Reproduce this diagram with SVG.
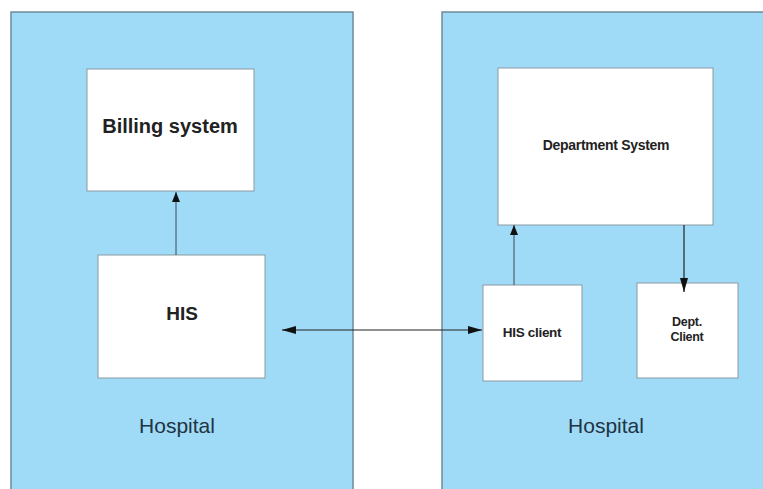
<svg xmlns="http://www.w3.org/2000/svg" width="763" height="489" viewBox="0 0 763 489">
  <style>
    .site { fill: #9fdbf6; stroke: #6f8a99; stroke-width: 1.5; }
    .box { fill: #ffffff; stroke: #8a9aa4; stroke-width: 1; }
    .label { font-family: "Liberation Sans", Arial, sans-serif; font-weight: bold; fill: #222; text-anchor: middle; }
    .site-label { font-family: "Liberation Sans", Arial, sans-serif; font-size: 21px; fill: #223344; text-anchor: middle; }
    .link { stroke: #3a4a55; stroke-width: 1; fill: none; }
    .link-dark { stroke: #222; stroke-width: 1.2; fill: none; }
  </style>
  <defs>
    <marker id="arrow" viewBox="0 0 10 10" refX="10" refY="5" markerWidth="10" markerHeight="10" markerUnits="userSpaceOnUse" orient="auto-start-reverse">
      <path d="M0,1 L10,5 L0,9 z" fill="#111"/>
    </marker>
    <marker id="arrow-lg" viewBox="0 0 14 10" refX="14" refY="5" markerWidth="14" markerHeight="10" markerUnits="userSpaceOnUse" orient="auto-start-reverse">
      <path d="M0,1 L14,5 L0,9 z" fill="#111"/>
    </marker>
  </defs>
  <rect width="763" height="489" fill="#ffffff"/>

  <!-- left site -->
  <g id="hospital-left">
    <rect class="site" x="11" y="12" width="342" height="490"/>
    <text class="site-label" x="177" y="433">Hospital</text>
  </g>

  <!-- right site -->
  <g id="hospital-right">
    <rect class="site" x="442" y="12" width="340" height="490"/>
    <text class="site-label" x="606" y="433">Hospital</text>
  </g>

  <g id="billing-system">
    <rect class="box" x="87" y="69" width="167" height="122"/>
    <text class="label" x="170" y="133" font-size="20">Billing system</text>
  </g>

  <g id="his">
    <rect class="box" x="98" y="255" width="167" height="123"/>
    <text class="label" x="182" y="320" font-size="19">HIS</text>
  </g>

  <g id="department-system">
    <rect class="box" x="498" y="68" width="215" height="157"/>
    <text class="label" x="606" y="150" font-size="14" letter-spacing="-0.3">Department System</text>
  </g>

  <g id="his-client">
    <rect class="box" x="483" y="285" width="99" height="96"/>
    <text class="label" x="532" y="337" font-size="13.5" letter-spacing="-0.3">HIS client</text>
  </g>

  <g id="dept-client">
    <rect class="box" x="637" y="283" width="101" height="95"/>
    <text class="label" x="687" y="326" font-size="12.5" letter-spacing="-0.3">Dept.</text>
    <text class="label" x="687" y="341" font-size="12.5" letter-spacing="-0.3">Client</text>
  </g>

  <g id="connectors">
    <line class="link" x1="176" y1="255" x2="176" y2="192" marker-end="url(#arrow)"/>
    <line class="link-dark" x1="282" y1="330" x2="482" y2="330" marker-start="url(#arrow-lg)" marker-end="url(#arrow-lg)"/>
    <line class="link" x1="514" y1="285" x2="514" y2="225" marker-end="url(#arrow)"/>
    <line class="link-dark" x1="684" y1="225" x2="684" y2="292" marker-end="url(#arrow-lg)"/>
  </g>
</svg>
